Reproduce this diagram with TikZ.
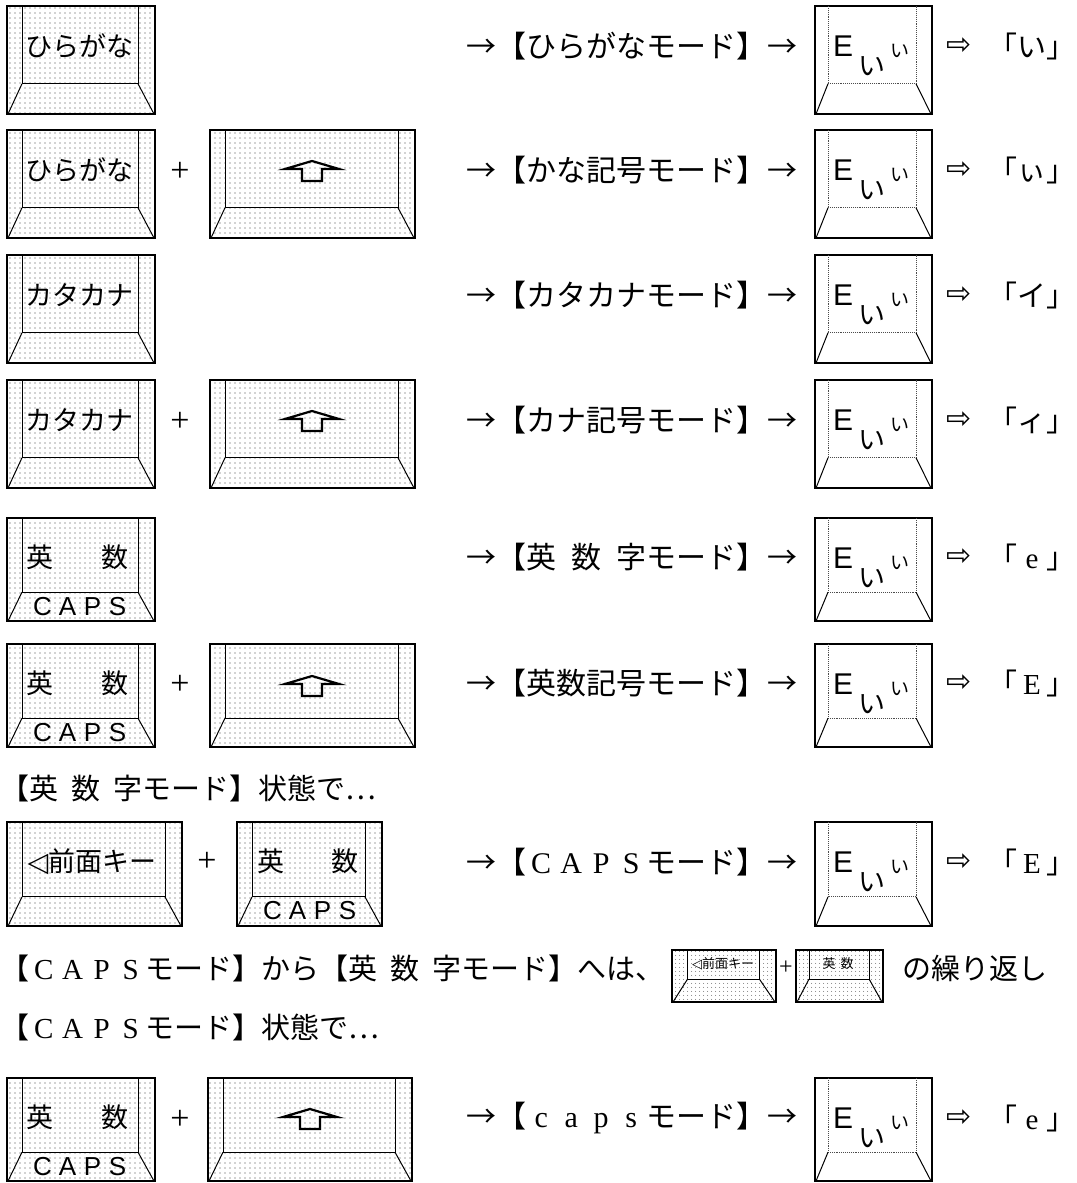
\documentclass[tikz,border=0pt]{standalone}
\usepackage{fontspec}
\setmainfont{Noto Sans CJK JP}
\newfontfamily\romfont{Liberation Serif}
\newfontfamily\dvfont{DejaVu Sans}
\newfontfamily\capsfont{Liberation Sans}
\usetikzlibrary{patterns.meta}
\newcommand\zw[1]{\makebox[1em]{\romfont #1}}
\newcommand\fsz[1]{\fontsize{#1}{#1}\selectfont}

\begin{document}
\begin{tikzpicture}
  [x=1pt,y=-1pt,
   every node/.style={inner sep=0pt,font=\fsz{29}},
   keybody/.style={draw,line width=2.8pt,pattern={Dots[distance=5pt,radius=.7pt]},pattern color=black!75},
   minibody/.style={draw,line width=1.2pt,pattern={Dots[distance=4pt,radius=.5pt]},pattern color=black!75},
   dispbody/.style={draw,line width=2.8pt,fill=white},
   faceline/.style={line width=1pt},
   dispface/.style={line width=.9pt,densely dotted,black!70},
   shiftarrow/.style={line width=2.2pt,line join=miter},
   keylbl/.style={font=\fsz{27}},
   capslbl/.style={font=\capsfont\fsz{26}},
   modetxt/.style={anchor=west,font=\fsz{30}},
   dispE/.style={font=\capsfont\fsz{30}},
   dispI/.style={font=\fsz{27}},
   dispS/.style={font=\fsz{19}},
   plussign/.style={font=\romfont\fsz{34}}]
\useasboundingbox (0,0) rectangle (1076,1183);

  % dotted keys
  \foreach \xa/\ya/\xb/\yb in {7/6/155/114, 7/130/155/238, 210/130/415/238,
      7/255/155/363, 7/380/155/488, 210/380/415/488, 7/518/155/621,
      7/644/155/747, 210/644/415/747, 7/822/182/926, 237/822/382/926,
      7/1078/155/1181, 208/1078/412/1181}{
    \draw[keybody] (\xa,\ya) rectangle (\xb,\yb);
    \draw[faceline] (\xa+15,\ya) |- ({\xb-17},{\ya+.72*(\yb-\ya)}) -- (\xb-17,\ya);
    \draw[faceline] (\xa+15,{\ya+.72*(\yb-\ya)}) -- (\xa+1,\yb)
                    (\xb-17,{\ya+.72*(\yb-\ya)}) -- (\xb-1,\yb);
  }

  \node[keylbl] (hira1) at (79,46) {ひらがな};
  \node[keylbl] (hira2) at (79,170) {ひらがな};
  \node[keylbl] (kata1) at (79,295) {カタカナ};
  \node[keylbl] (kata2) at (79,420) {カタカナ};
  \node[keylbl] (zenmen) at (92,862) {{\dvfont ◁}前面キー};
  \foreach \nm/\x/\y in {eisu5/78/518, eisu6/78/644, eisu7/308/822, eisu8/78/1078}{
    \node[keylbl] (\nm) at (\x,\y+39) {\makebox[102pt]{英\hfill 数}};
    \node[capslbl] (\nm caps) at (\x+2,\y+89)
      {\makebox[25pt]{C}\makebox[25pt]{A}\makebox[25pt]{P}\makebox[25pt]{S}};
  }

  % shift arrows
  \foreach \cx/\cy in {312/172, 312/422, 312/687, 310/1120}
    \draw[shiftarrow] (\cx-27,\cy-3) -- (\cx,\cy-11) -- (\cx+27,\cy-3) -- (\cx+10,\cy-3)
      -- (\cx+10,\cy+9) -- (\cx-10,\cy+9) -- (\cx-10,\cy-3) -- cycle;

  \foreach \nm/\x/\y in {plus2/180/172, plus4/180/422, plus6/180/685, plus7/207/862, plus8/180/1120}
    \node[plussign] (\nm) at (\x,\y) {+};

  % modes
  \foreach \rw/\ty/\md in {1/46/ひらがなモード, 2/170/かな記号モード, 3/295/カタカナモード,
      4/420/カナ記号モード, 5/557/英\hspace{.5em}数\hspace{.5em}字モード, 6/683/英数記号モード,
      7/862/\zw{C}\zw{A}\zw{P}\zw{S}モード, 8/1118/\zw{c}\zw{a}\zw{p}\zw{s}モード}
    \node[modetxt] (mode\rw) at (466,\ty) {\makebox[331pt]{→【\md】\hfill →}};

  % display keys
  \foreach \rw/\ty/\hh in {1/6/108, 2/130/108, 3/255/108, 4/380/108, 5/518/103,
      6/644/103, 7/822/104, 8/1078/103}{
    \draw[dispbody] (815,\ty) rectangle (932,\ty+\hh);
    \draw[dispface] (828,\ty) |- (916,{\ty+.72*\hh}) -- (916,\ty);
    \draw[faceline] (828,{\ty+.72*\hh}) -- (816,\ty+\hh) (916,{\ty+.72*\hh}) -- (931,\ty+\hh);
    \node[dispE] (E\rw) at (843,\ty+40) {E};
    \node[dispI] (I\rw) at (872,\ty+60) {い};
    \node[dispS] (S\rw) at (900,\ty+45) {い};
  }

  % results
  \foreach \rw/\ty/\ch in {1/46/い, 2/170/ぃ, 3/295/イ, 4/420/ィ, 5/557/\zw{e},
      6/683/\zw{E}, 7/862/\zw{E}, 8/1118/\zw{e}}{
    \node (arr\rw) at (959,\ty) {\dvfont\fsz{30}⇨};
    \node (out\rw) at (1032,\ty) {「\ch」};
  }

  % text lines
  \node[anchor=west] (head1) at (0,788) {【英\hspace{.45em}数\hspace{.45em}字モード】状態で…};
  \node[anchor=west] (line2) at (0,968)
    {【\zw{C}\zw{A}\zw{P}\zw{S}モード】から【英\hspace{.45em}数\hspace{.45em}字モード】へは、};
  \node[anchor=west] (head3) at (0,1027) {【\zw{C}\zw{A}\zw{P}\zw{S}モード】状態で…};

  \foreach \xa/\xb in {672/776, 796/883}{
    \draw[minibody] (\xa,950) rectangle (\xb,1002);
    \draw[faceline] ({\xa+.15*(\xb-\xa)},950) |- ({\xb-.16*(\xb-\xa)},979) -- ({\xb-.16*(\xb-\xa)},950);
    \draw[faceline] ({\xa+.15*(\xb-\xa)},979) -- (\xa+1,1002) ({\xb-.16*(\xb-\xa)},979) -- (\xb-1,1002);
  }
  \node (mini1) at (723,964) {\fsz{13}{\dvfont ◁}前面キー};
  \node[plussign] (plus9) at (786,968) {\fsz{24}+};
  \node (mini2) at (838,964) {\fsz{13}英\hspace{5pt}数};
  \node[anchor=west] (repeat) at (902,968) {の繰り返し};
\end{tikzpicture}
\end{document}
